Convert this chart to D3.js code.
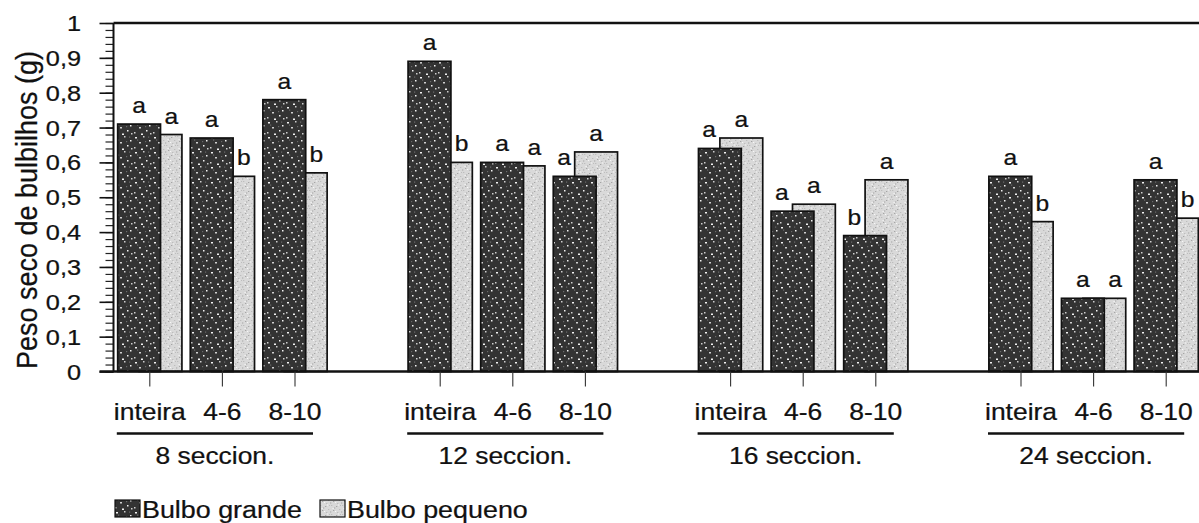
<!DOCTYPE html>
<html>
<head>
<meta charset="utf-8">
<script src="https://cdn.jsdelivr.net/npm/d3@7"></script>
<style>
  html, body { margin: 0; padding: 0; background: #fff; }
  svg { display: block; font-family: "Liberation Sans", Arial, sans-serif; }
  text { fill: #111; stroke: #111; stroke-width: 0.25px; }
</style>
</head>
<body>
<svg id="chart" width="1199" height="523"></svg>
<script>
// ---------------- data ----------------
const sections = ["8 seccion.", "12 seccion.", "16 seccion.", "24 seccion."];
const types = ["inteira", "4-6", "8-10"];
const grande  = [0.71, 0.67, 0.78,  0.89, 0.60, 0.56,  0.64, 0.46, 0.39,  0.56, 0.21, 0.55];
const pequeno = [0.68, 0.56, 0.57,  0.60, 0.59, 0.63,  0.67, 0.48, 0.55,  0.43, 0.21, 0.44];
const letrasGrande  = ["a", "a", "a",  "a", "a", "a",  "a", "a", "b",  "a", "a", "a"];
const letrasPequeno = ["a", "b", "b",  "b", "a", "a",  "a", "a", "a",  "b", "a", "b"];
const yTickValues = [0, 0.1, 0.2, 0.3, 0.4, 0.5, 0.6, 0.7, 0.8, 0.9, 1];
const yTickLabels = ["0", "0,1", "0,2", "0,3", "0,4", "0,5", "0,6", "0,7", "0,8", "0,9", "1"];
const seriesNames = ["Bulbo grande", "Bulbo pequeno"];
const yTitle = "Peso seco de bulbilhos (g)";

// ---------------- layout ----------------
const W = 1199, H = 523;
const plotLeft = 113.5, plotTop = 23, plotBottom = 371.5;
const slotW = 72.6;
const SX = 1.15; // horizontal stretch of the scanned lettering

// slots: 3 per section + 1 empty spacer between sections
const slotKeys = [];
const rows = [];
sections.forEach((s, si) => {
  types.forEach((t, ti) => {
    const key = s + "|" + t;
    slotKeys.push(key);
    const i = si * 3 + ti;
    rows.push({ key, section: s, type: t, si, g: grande[i], p: pequeno[i], lg: letrasGrande[i], lp: letrasPequeno[i] });
  });
  if (si < sections.length - 1) slotKeys.push("gap" + si);
});

const x = d3.scaleBand().domain(slotKeys).range([plotLeft, plotLeft + slotKeys.length * slotW]).padding(0);
const y = d3.scaleLinear().domain([0, 1]).range([plotBottom, plotTop]);

const svg = d3.select("#chart");
const defs = svg.append("defs");

// speckled textures
const dark = defs.append("pattern").attr("id", "darkTex").attr("patternUnits", "userSpaceOnUse")
  .attr("width", 19).attr("height", 15);
dark.append("rect").attr("width", 19).attr("height", 15).attr("fill", "#333333");
[[2,2],[10,1],[16,5],[6,7],[13,10],[1,12],[8,13.5],[17,13]].forEach(([a,b],k) => {
  dark.append("rect").attr("x", a).attr("y", b).attr("width", k % 3 === 0 ? 2 : 1.5).attr("height", 1.5)
    .attr("fill", k % 2 ? "#cfcfcf" : "#f2f2f2");
});
[[4,4.5],[12,6],[15,1.5]].forEach(([a,b]) => {
  dark.append("rect").attr("x", a).attr("y", b).attr("width", 1.2).attr("height", 1.2).attr("fill", "#6a6a6a");
});
const light = defs.append("pattern").attr("id", "lightTex").attr("patternUnits", "userSpaceOnUse")
  .attr("width", 11).attr("height", 9);
light.append("rect").attr("width", 11).attr("height", 9).attr("fill", "#d9d9d9");
[[1,1],[6,2],[9,5],[3,6],[7,8],[4,3.5],[10,1],[0,7.5]].forEach(([a,b],k) => {
  light.append("rect").attr("x", a).attr("y", b).attr("width", 1.3).attr("height", 1)
    .attr("fill", k % 2 ? "#a5a5a5" : "#bdbdbd");
});
[[2.5,4],[8,0.5],[5,7]].forEach(([a,b]) => {
  light.append("rect").attr("x", a).attr("y", b).attr("width", 1.2).attr("height", 1).attr("fill", "#f7f7f7");
});

function txt(parent, px, py, str, size, anchor, sx = SX) {
  return parent.append("text")
    .attr("transform", `translate(${px},${py}) scale(${sx},1)`)
    .attr("text-anchor", anchor)
    .style("font-size", size + "px")
    .text(str);
}

// ---------------- bars ----------------
const bw = slotW * 0.59;   // bar width
const half = bw / 2;       // 50% overlap offset
const barsG = svg.append("g");
rows.forEach(r => {
  const c = x(r.key) + x.bandwidth() / 2;
  const dX = c - half * 1.5, pX = c - half / 2;
  // light (behind)
  barsG.append("rect").attr("x", pX).attr("y", y(r.p)).attr("width", bw).attr("height", y(0) - y(r.p))
    .attr("fill", "url(#lightTex)").attr("stroke", "#111").attr("stroke-width", 1.7);
  // dark (front)
  barsG.append("rect").attr("x", dX).attr("y", y(r.g)).attr("width", bw).attr("height", y(0) - y(r.g))
    .attr("fill", "url(#darkTex)").attr("stroke", "#111").attr("stroke-width", 1.7);

  // significance letters
  let gx, px;
  if (r.p > r.g + 0.005) {
    px = pX + bw / 2;
    gx = (dX + pX) / 2;
  } else {
    gx = dX + bw / 2;
    px = (dX + bw + pX + bw) / 2;
  }
  txt(svg, gx, y(r.g) - 11, r.lg, 22, "middle", 1.12);
  txt(svg, px, y(r.p) - 11, r.lp, 22, "middle", 1.12);
});

// ---------------- axes ----------------
const yMinor = d3.axisLeft(y).tickValues(d3.range(0, 1.001, 0.02)).tickSize(8).tickFormat("");
const gMinor = svg.append("g").attr("transform", `translate(${plotLeft},0)`).call(yMinor);
gMinor.select(".domain").remove();
gMinor.selectAll("line").attr("stroke", "#222").attr("stroke-width", 1.2);

const yMajor = d3.axisLeft(y).tickValues(yTickValues).tickSize(14).tickFormat("");
const gMajor = svg.append("g").attr("transform", `translate(${plotLeft},0)`).call(yMajor);
gMajor.select(".domain").remove();
gMajor.selectAll("line").attr("stroke", "#111").attr("stroke-width", 1.6);

// y axis line, top border, baseline
svg.append("line").attr("x1", plotLeft).attr("x2", plotLeft).attr("y1", y(1)).attr("y2", y(0))
  .attr("stroke", "#111").attr("stroke-width", 2);
svg.append("line").attr("x1", plotLeft).attr("x2", W).attr("y1", y(1)).attr("y2", y(1))
  .attr("stroke", "#111").attr("stroke-width", 2.4);
svg.append("line").attr("x1", plotLeft - 14).attr("x2", W).attr("y1", y(0)).attr("y2", y(0))
  .attr("stroke", "#111").attr("stroke-width", 2.4);

// y tick labels
yTickValues.forEach((v, i) => {
  txt(svg, 81, y(v) + 8, yTickLabels[i], 22, "end");
});

// y title
svg.append("text")
  .attr("transform", `translate(37,210) scale(1.1,1) rotate(-90)`)
  .attr("text-anchor", "middle")
  .style("font-size", "27px")
  .text(yTitle);

// x category ticks & labels
const xAxis = d3.axisBottom(x).tickValues(rows.map(r => r.key)).tickSize(15).tickFormat("");
const gx = svg.append("g").attr("transform", `translate(0,${plotBottom})`).call(xAxis);
gx.select(".domain").remove();
gx.selectAll("line").attr("stroke", "#333").attr("stroke-width", 1.1);

rows.forEach(r => {
  const c = x(r.key) + x.bandwidth() / 2;
  txt(svg, c, 420, r.type, 23, "middle");
});

// section underline + labels
sections.forEach((s, si) => {
  const first = rows[si * 3], last = rows[si * 3 + 2];
  const x1 = x(first.key) + x.bandwidth() / 2 - 33;
  const x2 = x(last.key) + x.bandwidth() / 2 + 18;
  svg.append("line").attr("x1", x1).attr("x2", x2).attr("y1", 433.5).attr("y2", 433.5)
    .attr("stroke", "#111").attr("stroke-width", 2.4);
  txt(svg, (x1 + x2) / 2, 464, s, 24, "middle", 1.1);
});

// ---------------- legend ----------------
const legend = svg.append("g");
const legendItems = [
  { name: seriesNames[0], fill: "url(#darkTex)", x: 115 },
  { name: seriesNames[1], fill: "url(#lightTex)", x: 320 }
];
legendItems.forEach(it => {
  legend.append("rect").attr("x", it.x).attr("y", 500).attr("width", 25).attr("height", 17)
    .attr("fill", it.fill).attr("stroke", "#111").attr("stroke-width", 1.2);
  txt(legend, it.x + 27, 518, it.name, 24, "start", 1.12);
});
</script>
</body>
</html>
